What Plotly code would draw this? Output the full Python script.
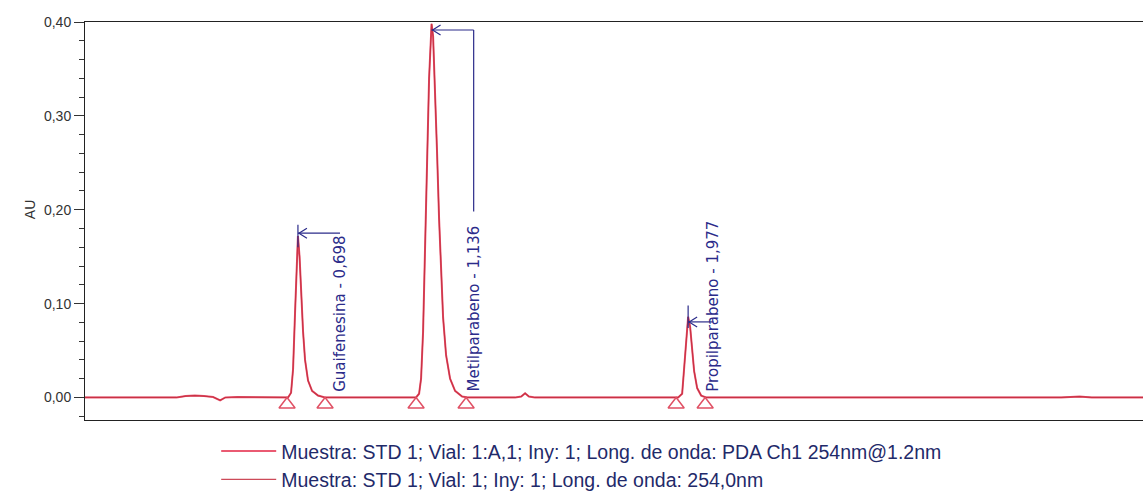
import plotly.graph_objects as go

# ---- data (retention time in min, absorbance in AU) ----
time_min = [0.000, 0.300, 0.330, 0.360, 0.390, 0.420, 0.443, 0.460, 0.500, 0.600, 0.6656,
            0.6754, 0.6820, 0.6885, 0.6934, 0.6980, 0.7033, 0.7082, 0.7148, 0.7213, 0.7311,
            0.7443, 0.7639, 0.7869, 1.0000, 1.0852, 1.0951, 1.1016, 1.1082, 1.1148, 1.1213,
            1.1279, 1.1328, 1.1360, 1.1410, 1.1475, 1.1541, 1.1607, 1.1672, 1.1738, 1.1836,
            1.1967, 1.2131, 1.2361, 1.2557, 1.4100, 1.4300, 1.4426, 1.4550, 1.4750, 1.9000,
            1.9443, 1.9574, 1.9639, 1.9705, 1.9770, 1.9836, 1.9902, 1.9967, 2.0066, 2.0197,
            2.0361, 3.2000, 3.2600, 3.3000, 3.4700]
au_pda = [0.000, 0.000, 0.0015, 0.0020, 0.0015, 0.0005, -0.0030, 0.0000, 0.0005, 0.0000, 0.0000,
          0.0050, 0.0300, 0.0900, 0.1400, 0.1720, 0.1500, 0.1100, 0.0700, 0.0400, 0.0180,
          0.0070, 0.0020, 0.0000, 0.0000, 0.0000, 0.0040, 0.0200, 0.0700, 0.1500, 0.2500,
          0.3400, 0.3850, 0.3980, 0.3850, 0.3300, 0.2600, 0.1900, 0.1300, 0.0850, 0.0450,
          0.0200, 0.0070, 0.0010, 0.0000, 0.0000, 0.0010, 0.0045, 0.0010, 0.0000, 0.0000,
          0.0000, 0.0040, 0.0300, 0.0650, 0.0860, 0.0750, 0.0500, 0.0280, 0.0100, 0.0020,
          0.0000, 0.0000, 0.0010, 0.0000, 0.0000]
au_254 = au_pda

peak_names = ["Guaifenesina", "Metilparabeno", "Propilparabeno"]
peak_rt = [0.698, 1.136, 1.977]
peak_rt_text = ["0,698", "1,136", "1,977"]
peak_height = [0.172, 0.398, 0.086]
integ_marks_t = [0.6623, 0.7869, 1.0852, 1.2492, 1.9377, 2.0328]

legend_names = ["Muestra: STD 1; Vial: 1:A,1; Iny: 1; Long. de onda: PDA Ch1 254nm@1.2nm",
                "Muestra: STD 1; Vial: 1; Iny: 1; Long. de onda: 254,0nm"]

NAVY = "#2b2b8a"
fig = go.Figure()
fig.add_trace(go.Scatter(x=time_min, y=au_pda, mode="lines", name=legend_names[0],
                         line=dict(color="#ea5a72", width=2)))
fig.add_trace(go.Scatter(x=time_min, y=au_254, mode="lines", name=legend_names[1],
                         line=dict(color="#c42a3c", width=1.2), opacity=0.85))
fig.add_trace(go.Scatter(x=integ_marks_t, y=[-0.0075] * len(integ_marks_t), mode="markers",
                         showlegend=False, hoverinfo="skip",
                         marker=dict(symbol="triangle-up-open", size=14, color="#e05064",
                                     line=dict(width=1.5))))

label_x = [0.836, 1.274, 2.060]
arrow_y = [0.175, 0.3915, 0.0805]
label_top = [0.175, 0.198, 0.17]
shapes = []
annotations = []
for i in range(3):
    shapes.append(dict(type="line", xref="x", yref="y", x0=peak_rt[i], x1=label_x[i],
                       y0=arrow_y[i], y1=arrow_y[i], line=dict(color=NAVY, width=1.2)))
    shapes.append(dict(type="path", xref="x", yref="y", xsizemode="pixel", ysizemode="pixel",
                       xanchor=peak_rt[i], yanchor=arrow_y[i],
                       path="M 9,-5 L 1,0 L 9,5", line=dict(color=NAVY, width=1.2)))
    annotations.append(dict(x=label_x[i], y=0.004, xref="x", yref="y", showarrow=False,
                            text=f"{peak_names[i]} - {peak_rt_text[i]}", textangle=-90,
                            xanchor="center", yanchor="bottom",
                            font=dict(family="DejaVu Sans", size=15, color=NAVY)))
shapes.append(dict(type="line", xref="x", yref="y", x0=label_x[1], x1=label_x[1],
                   y0=arrow_y[1], y1=label_top[1], line=dict(color=NAVY, width=1.2)))
for i in (0, 2):
    shapes.append(dict(type="line", xref="x", yref="y", x0=peak_rt[i], x1=peak_rt[i],
                       y0=peak_height[i] - 0.012, y1=peak_height[i] + 0.012,
                       line=dict(color=NAVY, width=1.2)))

annotations.append(dict(x=-0.062, y=0.5283, xref="paper", yref="paper",
                        text="AU", textangle=-90, showarrow=False,
                        font=dict(family="Liberation Sans", size=14, color="#333333")))

fig.update_layout(
    width=1143, height=492, paper_bgcolor="white", plot_bgcolor="white",
    margin=dict(l=85, r=0, t=22, b=72, autoexpand=False), separators=",.",
    font=dict(family="Liberation Sans", color="#333333"),
    xaxis=dict(range=[0, 3.468], showticklabels=False, ticks="", showgrid=False, zeroline=False,
               showline=True, linecolor="#222222", linewidth=1, mirror=True),
    yaxis=dict(range=[-0.024, 0.40], tickvals=[0, 0.1, 0.2, 0.3, 0.4], tickformat=".2f",
               ticks="outside", ticklen=10, tickcolor="#333333", showgrid=False, zeroline=False,
               showline=True, linecolor="#222222", linewidth=1,
               tickfont=dict(size=14, color="#333333"),
               minor=dict(dtick=0.02, tick0=0, ticks="outside", ticklen=5, tickcolor="#333333")),
    showlegend=True,
    legend=dict(x=0.124, y=-0.03, xanchor="left", yanchor="top", bgcolor="rgba(0,0,0,0)",
                font=dict(family="Liberation Sans", size=19.5, color="#1f2a6a"),
                tracegroupgap=0, itemwidth=55),
    shapes=shapes, annotations=annotations,
)
fig.write_html("out.html")
